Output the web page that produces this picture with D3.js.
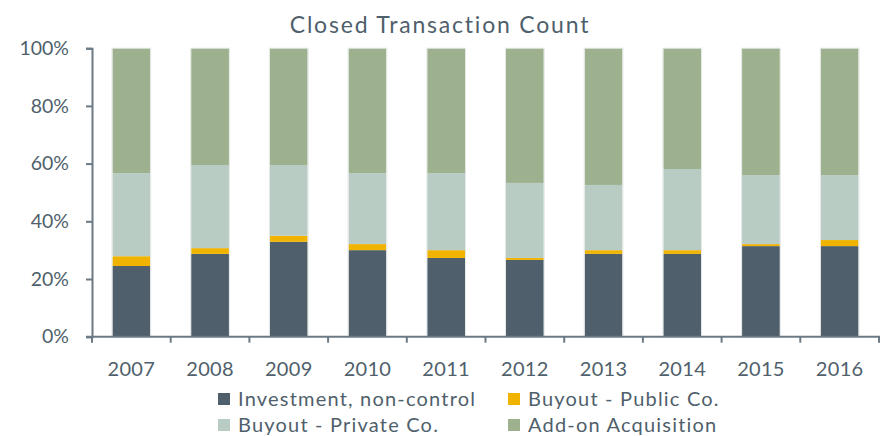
<!DOCTYPE html>
<html><head><meta charset="utf-8">
<script src="https://cdn.jsdelivr.net/npm/d3@7"></script>
<style>body{margin:0;background:#fff}svg{display:block}text{font-family:Lato,"Open Sans",sans-serif;fill:#4f5f6b}</style>
</head><body><svg id="c" width="883" height="436"></svg>
<script>
const years = ["2007","2008","2009","2010","2011","2012","2013","2014","2015","2016"];
const investment = [24.5,28.7,32.9,30.0,27.3,26.6,28.7,28.7,31.4,31.4];
const buyoutPublic = [3.4,2.0,2.1,2.1,2.7,0.7,1.3,1.3,0.7,2.1];
const buyoutPrivate = [28.8,28.8,24.5,24.6,26.7,26.0,22.6,28.1,23.9,22.5];
const addOn = [43.3,40.5,40.5,43.3,43.3,46.7,47.4,41.9,44.0,44.0];
const seriesNames = ["Investment, non-control","Buyout - Public Co.","Buyout - Private Co.","Add-on Acquisition"];
const yTicks = [0,20,40,60,80,100];
const colors = ["#4f5f6b","#f0b400","#b8ccc3","#9eb18e"];

const svg = d3.select("#c");
const m = {l:92};
const x = d3.scaleBand().domain(years).range([m.l, 879]).paddingInner(0.52).paddingOuter(0.26);
const y = d3.scaleLinear().domain([0,100]).range([336.7, 48.2]);

const rows = years.map((yr,i)=>({year:yr, s0:investment[i], s1:buyoutPublic[i], s2:buyoutPrivate[i], s3:addOn[i]}));
const stack = d3.stack().keys(["s0","s1","s2","s3"]).offset(d3.stackOffsetExpand)(rows);

svg.append("text").attr("x",440).attr("y",33).attr("text-anchor","middle")
  .style("font-size","23px").style("letter-spacing","1.8px").text("Closed Transaction Count");

stack.forEach((layer,k)=>{
  svg.append("g").selectAll("rect").data(layer).join("rect")
    .attr("x",d=>x(d.data.year)).attr("width",x.bandwidth())
    .attr("y",d=>y(d[1]*100)).attr("height",d=>y(d[0]*100)-y(d[1]*100))
    .attr("fill",colors[k]);
});
svg.append("g").selectAll("rect").data(rows).join("rect")
  .attr("x",d=>x(d.year)-0.5).attr("width",x.bandwidth()+1)
  .attr("y",y(100)).attr("height",y(0)-y(100))
  .attr("fill","none").attr("stroke","#e4e8e6").attr("stroke-width",1);

const axisColor = "#6b7a85";
const yAxis = svg.append("g").attr("transform",`translate(${m.l},0)`)
  .call(d3.axisLeft(y).tickValues(yTicks).tickFormat(d=>d+"%").tickSize(6).tickPadding(17));
yAxis.select(".domain").attr("stroke",axisColor).attr("stroke-width",2);
yAxis.selectAll(".tick line").attr("stroke",axisColor).attr("stroke-width",2);
yAxis.selectAll("text").style("font-size","19.5px").attr("fill","#4f5f6b");

const xAxis = svg.append("g").attr("transform",`translate(0,${y(0)})`)
  .call(d3.axisBottom(x).tickSize(0).tickPadding(25));
xAxis.select(".domain").remove();
xAxis.selectAll("text").style("font-size","20px").style("letter-spacing","0.3px").attr("fill","#4f5f6b");
svg.append("line").attr("x1",m.l-6).attr("x2",880).attr("y1",y(0)).attr("y2",y(0)).attr("stroke",axisColor).attr("stroke-width",2);
const bounds = d3.range(years.length+1).map(i=> m.l + i*(879-m.l)/years.length);
svg.append("g").selectAll("line").data(bounds).join("line")
  .attr("x1",d=>d).attr("x2",d=>d).attr("y1",y(0)).attr("y2",y(0)+6)
  .attr("stroke",axisColor).attr("stroke-width",2);

const legPos = [[218,399],[508,399],[218,425],[508,425]];
seriesNames.forEach((n,i)=>{
  const g = svg.append("g").attr("transform",`translate(${legPos[i][0]},${legPos[i][1]})`);
  g.append("rect").attr("x",0).attr("y",-6).attr("width",12).attr("height",12).attr("fill",colors[i]);
  g.append("text").attr("x",20).attr("y",7).style("font-size","20px").style("letter-spacing","1.2px").text(n);
});
</script></body></html>
